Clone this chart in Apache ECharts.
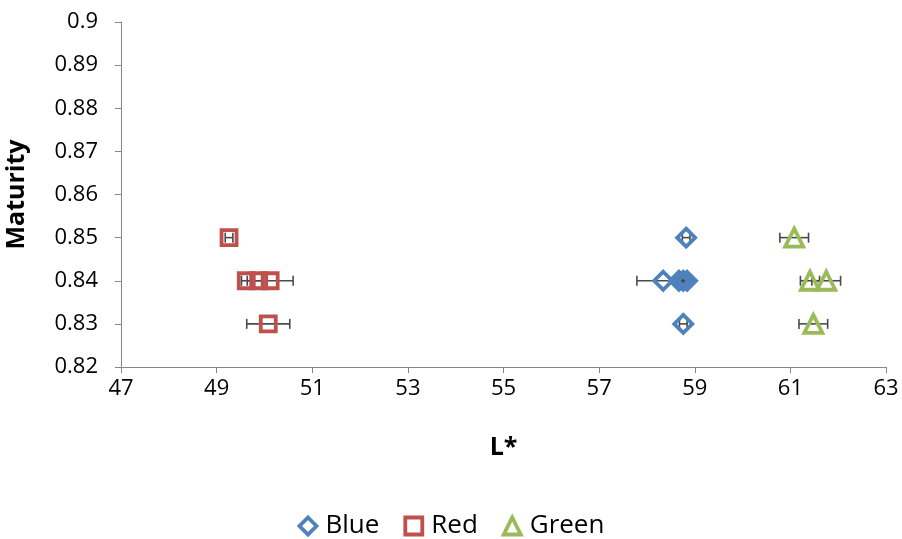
<!DOCTYPE html>
<html><head><meta charset="utf-8">
<script src="https://cdn.jsdelivr.net/npm/echarts@6/dist/echarts.min.js"></script>
<style>html,body{margin:0;padding:0;background:#fff}#c{width:902px;height:539px}</style>
</head><body><div id="c"></div>
<script>
// x (L*), y (Maturity), x-error
const blueX = [58.82, 58.34, 58.67, 58.76, 58.84, 58.76];
const blueY = [0.85, 0.84, 0.84, 0.84, 0.84, 0.83];
const blueErr = [0.08, 0.55, 0.1, 0.1, 0.1, 0.08];
const redX = [49.26, 49.62, 49.88, 50.12, 50.08];
const redY = [0.85, 0.84, 0.84, 0.84, 0.83];
const redErr = [0.08, 0.1, 0.1, 0.48, 0.45];
const greenX = [61.08, 61.41, 61.75, 61.48];
const greenY = [0.85, 0.84, 0.84, 0.83];
const greenErr = [0.3, 0.2, 0.3, 0.3];
const seriesNames = ['Blue', 'Red', 'Green'];

const FONT = 'Open Sans';
const chart = echarts.init(document.getElementById('c'));
function pts(xs, ys) { return xs.map((x, i) => [x, ys[i]]); }
function errs(xs, ys, es) { return xs.map((x, i) => [x - es[i], x + es[i], ys[i]]); }
function errSeries(data) {
  return {
    type: 'custom', data: data, z: 1, silent: true,
    renderItem: function (params, api) {
      const lo = api.coord([api.value(0), api.value(2)]);
      const hi = api.coord([api.value(1), api.value(2)]);
      const h = 5;
      const st = { stroke: '#4a4a4a', lineWidth: 1.6 };
      return { type: 'group', children: [
        { type: 'line', shape: { x1: lo[0], y1: lo[1], x2: hi[0], y2: hi[1] }, style: st },
        { type: 'line', shape: { x1: lo[0], y1: lo[1] - h, x2: lo[0], y2: lo[1] + h }, style: st },
        { type: 'line', shape: { x1: hi[0], y1: hi[1] - h, x2: hi[0], y2: hi[1] + h }, style: st }
      ]};
    }
  };
}
function scat(name, data, symbol, color, size) {
  return { name: name, type: 'scatter', data: data, symbol: symbol, symbolSize: size, z: 3,
    itemStyle: { color: 'rgba(255,255,255,0)', borderColor: color, borderWidth: 3.8, opacity: 1 } };
}
chart.setOption({
  animation: false,
  textStyle: { fontFamily: FONT },
  grid: { left: 121, right: 16, top: 22, bottom: 172, outerBoundsMode: 'none', containLabel: false },
  xAxis: {
    type: 'value', min: 47, max: 63, interval: 2,
    name: 'L*', nameLocation: 'middle', nameGap: 68,
    nameTextStyle: { fontFamily: FONT, fontWeight: 'bold', fontSize: 25, color: '#000' },
    axisLine: { lineStyle: { color: '#868686', width: 1 } },
    axisTick: { inside: false, length: 6, lineStyle: { color: '#868686' } },
    axisLabel: { fontFamily: FONT, fontSize: 22, color: '#000', margin: 11 },
    splitLine: { show: false }
  },
  yAxis: {
    type: 'value', min: 0.82, max: 0.9, interval: 0.01,
    name: 'Maturity', nameLocation: 'middle', nameGap: 92,
    nameTextStyle: { fontFamily: FONT, fontWeight: 'bold', fontSize: 25, color: '#000' },
    axisLine: { show: true, lineStyle: { color: '#868686', width: 1 } },
    axisTick: { show: true, inside: false, length: 6, lineStyle: { color: '#868686' } },
    axisLabel: { fontFamily: FONT, fontSize: 22, color: '#000', margin: 23,
      formatter: v => String(+v.toFixed(2)) },
    splitLine: { show: false }
  },
  legend: {
    top: 508, left: 'center', itemGap: 24, itemWidth: 17, itemHeight: 17,
    data: [
      { name: 'Blue', icon: 'diamond' },
      { name: 'Red', icon: 'rect' },
      { name: 'Green', icon: 'triangle' }
    ],
    itemStyle: { borderWidth: 3.8 },
    textStyle: { fontFamily: FONT, fontSize: 26, color: '#000', padding: [0, 0, 0, 4] }
  },
  series: [
    errSeries(errs(blueX, blueY, blueErr)),
    errSeries(errs(redX, redY, redErr)),
    errSeries(errs(greenX, greenY, greenErr)),
    scat(seriesNames[0], pts(blueX, blueY), 'diamond', '#4F81BD', 18),
    scat(seriesNames[1], pts(redX, redY), 'rect', '#C0504D', 15),
    scat(seriesNames[2], pts(greenX, greenY), 'triangle', '#9BBB59', 18)
  ]
});
</script></body></html>
